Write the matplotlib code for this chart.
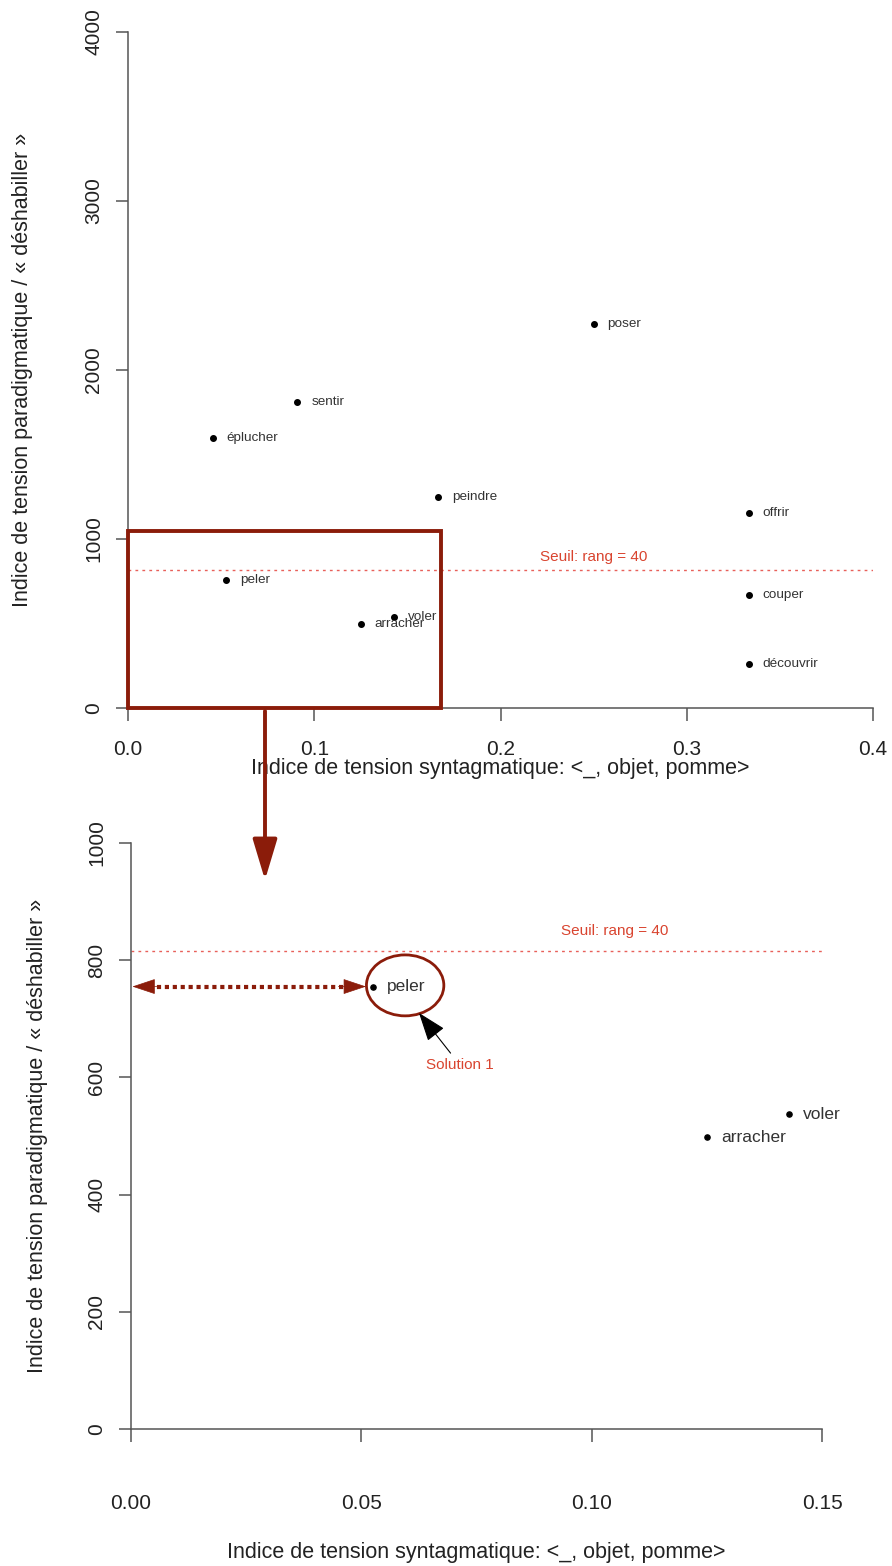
import matplotlib.pyplot as plt
from matplotlib.patches import Ellipse, Rectangle, FancyArrowPatch

plt.rcParams['font.family'] = ['Liberation Sans', 'DejaVu Sans']

# --- data ---
verbs = ["poser", "sentir", "éplucher", "peindre", "offrir",
         "peler", "voler", "arracher", "couper", "découvrir"]
synt = [0.25, 0.0909, 0.0455, 0.1667, 0.3333,
        0.0526, 0.1429, 0.125, 0.3333, 0.3333]
para = [2270, 1810, 1595, 1250, 1155,
        755, 537, 498, 668, 260]
threshold = 815
zoom_verbs = ["peler", "voler", "arracher"]

xlab = "Indice de tension syntagmatique: <_, objet, pomme>"
ylab = "Indice de tension paradigmatique / « déshabiller »"

DARK = '#8b1c0a'
RED_TXT = '#d9442f'
RED_LINE = '#e8605a'
AXC = '#555555'


def r_style(ax, xlim, ylim, xticks, yticks, xfmt, xpad, fs=15):
    ax.set_xlim(*xlim)
    ax.set_ylim(*ylim)
    for s in ['top', 'right']:
        ax.spines[s].set_visible(False)
    for s in ['left', 'bottom']:
        ax.spines[s].set_color(AXC)
        ax.spines[s].set_linewidth(1.1)
    ax.spines['bottom'].set_bounds(xticks[0], xticks[-1])
    ax.spines['left'].set_bounds(yticks[0], yticks[-1])
    ax.set_xticks(xticks)
    ax.set_xticklabels([xfmt.format(t) for t in xticks])
    ax.set_yticks(yticks)
    ax.set_yticklabels([str(t) for t in yticks])
    ax.tick_params(direction='out', length=9, width=1.1, color=AXC,
                   labelsize=fs, labelcolor='#222222')
    ax.tick_params(axis='x', pad=xpad)
    ax.tick_params(axis='y', pad=9)
    for t in ax.get_yticklabels():
        t.set_rotation(90)
        t.set_va('center')


fig = plt.figure(figsize=(8.92, 15.66), dpi=100)

# ---------------- top panel ----------------
ax1 = fig.add_axes([0.1435, 0.548, 0.8352, 0.4317])
r_style(ax1, (0, 0.4), (0, 4000), [0.0, 0.1, 0.2, 0.3, 0.4],
        [0, 1000, 2000, 3000, 4000], "{:.1f}", xpad=14)
ax1.scatter(synt, para, s=16, c='black', zorder=3, clip_on=False)
for v, x, y in zip(verbs, synt, para):
    ax1.annotate(v, (x, y), xytext=(10, 0), textcoords='offset points',
                 va='center', ha='left', fontsize=9.7, color='#333333')
ax1.axhline(threshold, color=RED_LINE, ls=(0, (2, 3)), lw=1)
ax1.text(0.25, 893, "Seuil: rang = 40", color=RED_TXT, fontsize=11,
         ha='center', va='center')
ax1.add_patch(Rectangle((0, 0), 0.168, 1045, fill=False, ec=DARK,
                        lw=2.8, clip_on=False, zorder=4))
ax1.set_xlabel(xlab, fontsize=15.5, color='#222222')
ax1.xaxis.label.set_va('center')
ax1.xaxis.set_label_coords(0.5, -0.09)
ax1.set_ylabel(ylab, fontsize=15.5, color='#222222')
ax1.yaxis.label.set_va('center')
ax1.yaxis.set_label_coords(-0.142, 0.5)

# connector between the two panels
fig.add_artist(FancyArrowPatch((265 / 892, 1 - 711 / 1566),
                               (265 / 892, 1 - 880 / 1566),
                               transform=fig.transFigure,
                               arrowstyle='-|>,head_length=2.5,head_width=0.75',
                               mutation_scale=10, color=DARK, lw=2.8,
                               shrinkA=0, shrinkB=0))

# ---------------- bottom panel ----------------
ax2 = fig.add_axes([0.1469, 0.0875, 0.7747, 0.3742])
r_style(ax2, (0, 0.15), (0, 1000), [0.0, 0.05, 0.10, 0.15],
        [0, 200, 400, 600, 800, 1000], "{:.2f}", xpad=38)
zx = [synt[verbs.index(v)] for v in zoom_verbs]
zy = [para[verbs.index(v)] for v in zoom_verbs]
ax2.scatter(zx, zy, s=14, c='black', zorder=3)
for v, x, y in zip(zoom_verbs, zx, zy):
    ax2.annotate(v, (x, y), xytext=(10, 0), textcoords='offset points',
                 va='center', ha='left', fontsize=12.5, color='#333333')
ax2.axhline(threshold, color=RED_LINE, ls=(0, (2, 3)), lw=1, clip_on=False)
ax2.text(0.105, 850, "Seuil: rang = 40", color=RED_TXT, fontsize=11,
         ha='center', va='center')

# double arrow: distance from 0 to peler (dotted shaft + solid heads)
peler_x = synt[verbs.index("peler")]
peler_y = para[verbs.index("peler")]
ax2.plot([0.004, 0.047], [peler_y, peler_y], color=DARK, lw=3,
         ls=(0, (1, 0.9)), dash_capstyle='butt')
for tip, back in [(0.0003, 0.006), (0.051, 0.045)]:
    ax2.annotate('', xy=(tip, peler_y), xytext=(back, peler_y),
                 arrowprops=dict(arrowstyle='-|>,head_length=1.5,head_width=0.5',
                                 mutation_scale=10, lw=0.5, color=DARK,
                                 shrinkA=0, shrinkB=0))
ax2.add_patch(Ellipse((0.0595, 757), 0.0168, 104, fill=False, ec=DARK, lw=2))
ax2.annotate("Solution 1", xy=(0.0625, 710), xytext=(0.0714, 621),
             color=RED_TXT, fontsize=11, ha='center', va='center',
             arrowprops=dict(arrowstyle='-|>,head_length=1.8,head_width=0.65',
                             mutation_scale=10, lw=0.8, color='black',
                             shrinkA=2, shrinkB=0))

ax2.set_xlabel(xlab, fontsize=15.5, color='#222222')
ax2.xaxis.label.set_va('center')
ax2.xaxis.set_label_coords(0.5, -0.21)
ax2.set_ylabel(ylab, fontsize=15.5, color='#222222')
ax2.yaxis.label.set_va('center')
ax2.yaxis.set_label_coords(-0.135, 0.5)

fig.savefig("out.png", dpi=100)
